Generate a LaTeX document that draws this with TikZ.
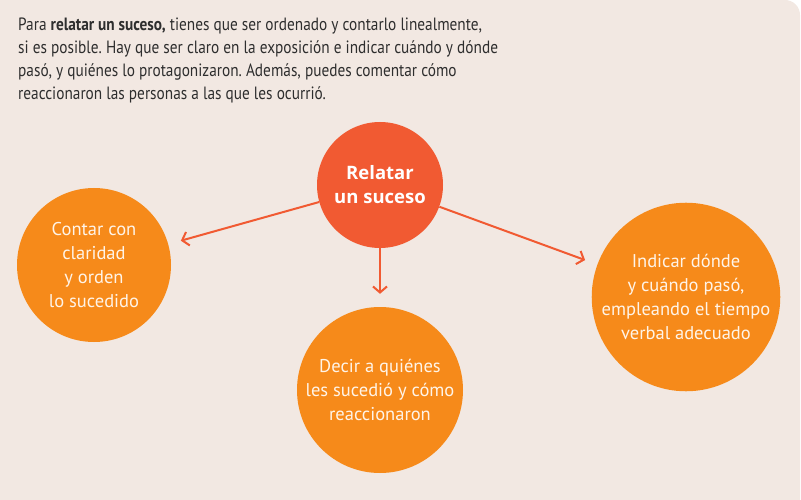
\documentclass[tikz,border=0pt]{standalone}
\usepackage{fontspec}
\setmainfont{PT Sans}[FakeStretch=0.86]
\newfontfamily\circlefont{PT Sans}
\newfontfamily\hubfont{Open Sans}
\usetikzlibrary{arrows.meta}
\definecolor{PaperBeige}{HTML}{F2E8E2}
\definecolor{EventRed}{HTML}{F15A32}
\definecolor{TipOrange}{HTML}{F68A1A}
\definecolor{InkGray}{HTML}{2E2E2E}
\definecolor{SoftWhite}{HTML}{FFF4E8}
\frenchspacing

\begin{document}
\begin{tikzpicture}[x=1pt, y=-1pt,
  tip/.style={circle, fill=TipOrange, text=SoftWhite, align=center,
              inner sep=0pt, font=\circlefont\fontsize{18.5}{24}\selectfont},
  link/.style={draw=EventRed, line width=2pt,
               -{Straight Barb[length=6pt,width=14pt]}, shorten >=13pt}]
  \useasboundingbox (0,0) rectangle (801,500);
  \fill[PaperBeige, rounded corners=15pt] (-30,0) rectangle (800,530);

  \node[anchor=north west, inner sep=0pt, align=left, text=InkGray,
        font=\fontsize{17.8}{23}\selectfont] (intro) at (18,18) {
    Para \textbf{relatar un suceso,} tienes que ser ordenado y contarlo linealmente,\\
    si es posible. Hay que ser claro en la exposición e indicar cuándo y dónde\\
    pasó, y quiénes lo protagonizaron. Además, puedes comentar cómo\\
    reaccionaron las personas a las que les ocurrió.};

  \node[circle, fill=EventRed, text=white, align=center, inner sep=0pt,
        minimum size=126pt, font=\hubfont\bfseries\fontsize{18.5}{24}\selectfont]
    (suceso) at (380,185) {Relatar\\un suceso};

  \node[tip, minimum size=154pt] (claridad) at (94,265)
    {Contar con\\claridad\\y orden\\lo sucedido};
  \node[tip, minimum size=166pt] (quienes) at (380,390)
    {Decir a quiénes\\les sucedió y cómo\\reaccionaron};
  \node[tip, minimum size=186pt] (donde) at (686,297)
    {Indicar dónde\\y cuándo pasó,\\empleando el tiempo\\verbal adecuado};

  \foreach \target in {claridad, quienes, donde}
    \draw[link] (suceso) -- (\target);
\end{tikzpicture}
\end{document}
